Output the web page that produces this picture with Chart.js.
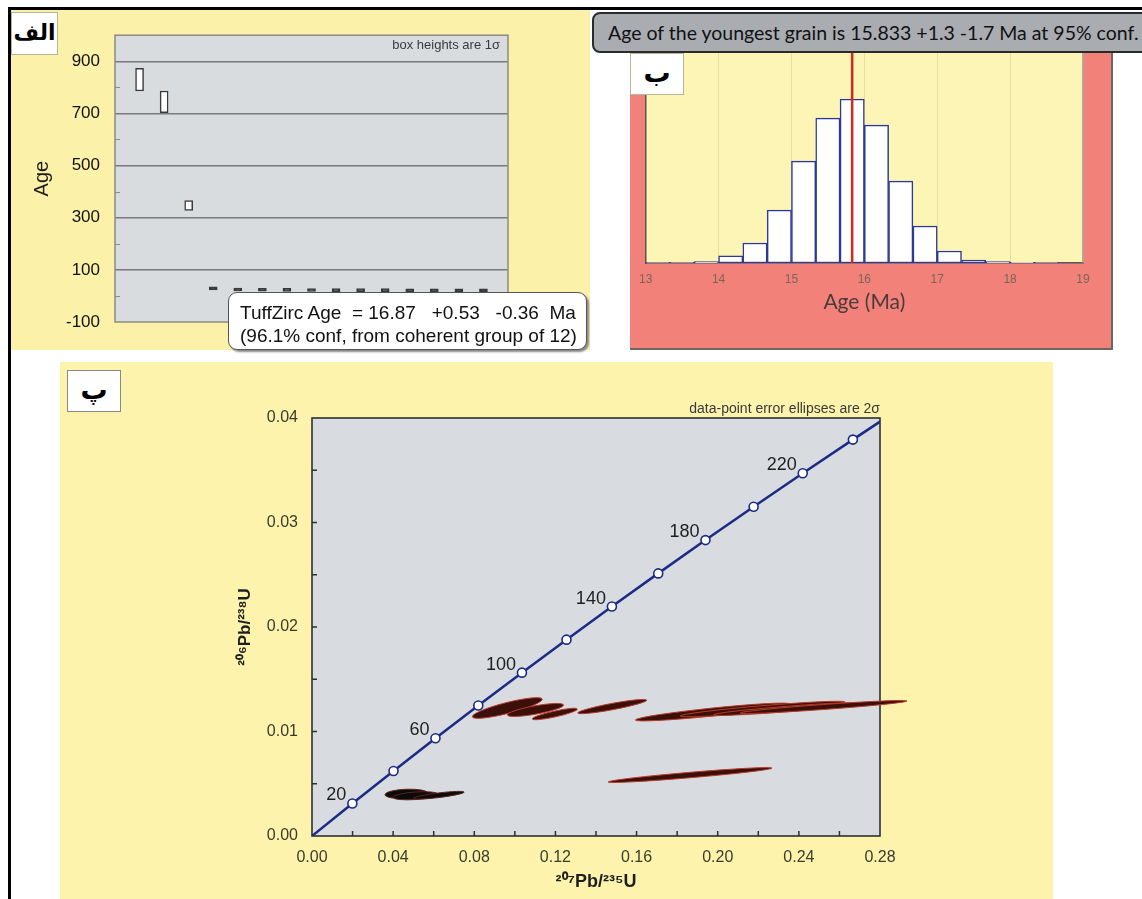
<!DOCTYPE html>
<html><head><meta charset="utf-8">
<script src="https://cdn.jsdelivr.net/npm/chart.js@4.4.1/dist/chart.umd.min.js"></script>
<style>
html,body{margin:0;padding:0;background:#fff;width:1142px;height:899px;overflow:hidden;position:relative;font-family:"Liberation Sans",Arial,sans-serif;}
.abs{position:absolute;}
#frameTop{left:8px;top:7px;width:1134px;height:3px;background:#000;}
#frameLeft{left:8px;top:7px;width:3px;height:892px;background:#000;}
#panelA{left:11px;top:10px;width:579px;height:340px;background:#fcf1a9;}
#panelB{left:630px;top:50px;width:481px;height:298px;background:#f2817a;border-right:2px solid #6d6463;border-bottom:2px solid #6d6463;}
#panelC{left:60px;top:362px;width:993px;height:537px;background:#fdf3ac;}
canvas{position:absolute;}
.lab{position:absolute;background:#fff;border:1px solid #b9b59a;box-sizing:border-box;font-family:"DejaVu Sans",sans-serif;font-weight:bold;color:#000;text-align:center;}
#titleB{left:592px;top:12px;width:570px;height:41px;box-sizing:border-box;background:#a9acb1;border:2px solid #2a2a2a;border-radius:8px;font-family:Lato,"Open Sans",sans-serif;font-size:19.5px;line-height:37px;padding-left:14px;color:#111;white-space:pre;}
#tuff{left:228px;top:292px;width:359px;height:58px;box-sizing:border-box;background:#fff;border:1px solid #555;border-radius:9px;box-shadow:2px 2px 2px #888;font-size:19px;line-height:23px;padding:8px 0 0 11px;color:#111;white-space:pre;}
.note{position:absolute;color:#3a3a3a;white-space:pre;text-align:right;}
</style>
</head>
<body>
<div id="panelA" class="abs"></div>
<div id="panelB" class="abs"></div>
<div id="panelC" class="abs"></div>
<div id="frameTop" class="abs"></div>
<div id="frameLeft" class="abs"></div>

<canvas id="cA" width="580" height="340" style="left:10px;top:10px"></canvas>
<canvas id="cB" width="483" height="338" style="left:630px;top:12px"></canvas>
<canvas id="cC" width="993" height="537" style="left:60px;top:362px"></canvas>

<div class="lab" style="left:11px;top:12px;width:47px;height:43px;line-height:40px;font-size:22px;">الف</div>
<div class="lab" style="left:630px;top:53px;width:54px;height:42px;line-height:38px;font-size:27px;">ب</div>
<div class="lab" style="left:67px;top:370px;width:54px;height:42px;line-height:38px;font-size:27px;border-color:#888;">پ</div>
<div id="titleB" class="abs">Age of the youngest grain is 15.833 +1.3 -1.7 Ma at 95% conf.</div>
<div id="tuff" class="abs">TuffZirc Age  = 16.87   +0.53   -0.36  Ma
(96.1% conf, from coherent group of 12)</div>
<div class="note" style="right:642px;top:37px;font-size:13px;">box heights are 1σ</div>
<div class="note" style="right:262px;top:400px;font-size:14px;">data-point error ellipses are 2σ</div>

<script>
// ---------- Panel الف : grain ages (box heights 1 sigma) ----------
const grainNo    = [1, 2, 3, 4, 5, 6, 7, 8, 9, 10, 11, 12, 13, 14, 15];
const grainAge   = [829.5, 744.5, 347, 24, 19.5, 18.4, 17.9, 17.5, 17.2, 17.0, 16.8, 16.6, 16.4, 16.1, 15.8];
const grainSigma = [43.5, 41.5, 19, 0.7, 0.6, 0.6, 0.5, 0.5, 0.5, 0.5, 0.5, 0.5, 0.5, 0.5, 0.5];

// ---------- Panel ب : youngest-grain age histogram ----------
const binStart  = [13.0, 13.333, 13.667, 14.0, 14.333, 14.667, 15.0, 15.333, 15.667, 16.0, 16.333, 16.667, 17.0, 17.333, 17.667, 18.0, 18.333];
const binCounts = [0.2, 0.3, 0.8, 4.3, 12.2, 32.3, 62.2, 88.4, 100, 84.1, 50, 22.6, 7.3, 1.8, 0.8, 0.4, 0.2];
const binWidth  = 1/3;
const youngestAge = 15.833;
const histYMax = 133;

// ---------- Panel پ : concordia diagram ----------
const concAge = [0, 20, 40, 60, 80, 100, 120, 140, 160, 180, 200, 220, 240, 250.7];
const concX   = [0, 0.019892, 0.040180, 0.060872, 0.081975, 0.103498, 0.125450, 0.147840, 0.170677, 0.193972, 0.217707, 0.241917, 0.266634, 0.28];
const concY   = [0, 0.0031073, 0.0062243, 0.0093509, 0.012487, 0.015633, 0.018789, 0.021955, 0.025131, 0.028316, 0.031511, 0.034717, 0.037932, 0.03965];
const concLabelAges = [20, 60, 100, 140, 180, 220];

// error ellipses: long-axis end points (x1,y1)-(x2,y2) and half thickness in 206Pb/238U
const youngX1 = [0.036, 0.040, 0.050];
const youngY1 = [0.00395, 0.0037, 0.0036];
const youngX2 = [0.057, 0.062, 0.075];
const youngY2 = [0.0041, 0.0040, 0.0042];
const youngHW = [0.00045, 0.00036, 0.00022];

const oldX1 = [0.079, 0.0963, 0.1086, 0.131, 0.1594, 0.1815, 0.198, 0.211, 0.146];
const oldY1 = [0.0114, 0.01158, 0.0112, 0.01177, 0.0111, 0.01148, 0.0116, 0.01177, 0.00517];
const oldX2 = [0.1135, 0.124, 0.1308, 0.165, 0.2357, 0.2628, 0.27, 0.2933, 0.2268];
const oldY2 = [0.0131, 0.01254, 0.01215, 0.0130, 0.01263, 0.01282, 0.0127, 0.01292, 0.0065];
const oldHW = [0.00052, 0.0004, 0.00028, 0.0003, 0.00038, 0.00032, 0.00026, 0.00024, 0.00026];

// ---------- helpers ----------
function areaFill(id, fill) {
  return { id, beforeDraw(c) { const a = c.chartArea, x = c.ctx; x.save(); x.fillStyle = fill; x.fillRect(a.left, a.top, a.right - a.left, a.bottom - a.top); x.restore(); } };
}
function areaBorder(id, stroke, lw) {
  return { id, beforeDatasetsDraw(c) { const a = c.chartArea, x = c.ctx; x.save(); x.strokeStyle = stroke; x.lineWidth = lw; x.strokeRect(a.left, a.top, a.right - a.left, a.bottom - a.top); x.restore(); } };
}
const base = { responsive:false, animation:false, devicePixelRatio:1, plugins:{legend:{display:false}, tooltip:{enabled:false}} };

// ---------- Chart الف ----------
new Chart(document.getElementById('cA'), {
  type:'bar',
  data:{ datasets:[{
    data: grainNo.map((g,i)=>({x:g, y:[grainAge[i]-grainSigma[i], grainAge[i]+grainSigma[i]]})),
    backgroundColor: ctx => (ctx.raw && (ctx.raw.y[1]-ctx.raw.y[0]) < 8) ? '#1e1e1e' : '#ffffff',
    borderColor:'#3a3a3a', borderWidth:1.5, borderSkipped:false,
    barThickness:8, minBarLength:3
  }]},
  options:Object.assign({}, base, {
    layout:{padding:{top:23, right:82, bottom:28, left:0}},
    scales:{
      x:{type:'linear', min:0, max:16, offset:false, display:false},
      y:{min:-100, max:1000,
         afterFit:s=>{ s.width = 105; },
         ticks:{stepSize:100, autoSkip:false, padding:15, color:'#111', font:{family:'"Liberation Sans"', size:17},
                callback:v=> (Math.round(v+100)%200===0 && v<1000) ? String(v) : ''},
         grid:{drawTicks:false, lineWidth:1.5,
               color:c=> (c.tick && Math.round(c.tick.value+100)%200===0 && c.tick.value>-100 && c.tick.value<1000) ? '#7a7a7a' : 'rgba(0,0,0,0)'},
         border:{display:false},
         title:{display:true, text:'Age', color:'#1e1e1e', font:{family:'"Liberation Sans"', size:20}, padding:{top:20, bottom:0}}
      }
    }
  }),
  plugins:[areaFill('bgA', '#d9dcdf'), areaBorder('bdA', '#8c8b80', 1.5), {
    id:'minorA', beforeDatasetsDraw(c){ const y=c.scales.y, a=c.chartArea, x=c.ctx; x.save(); x.strokeStyle='#8c8c8c'; x.lineWidth=1;
      y.ticks.forEach(t=>{ if (Math.round(t.value)%200===0 && t.value>-100 && t.value<1000){ const p=Math.round(y.getPixelForValue(t.value))+0.5; x.beginPath(); x.moveTo(a.left, p); x.lineTo(a.left+5, p); x.stroke(); } });
      x.restore(); }
  }]
});

// ---------- Chart ب ----------
new Chart(document.getElementById('cB'), {
  data:{ datasets:[
    { type:'bar', order:2,
      data: binStart.map((s,i)=>({x:s+binWidth/2, y:binCounts[i]})),
      backgroundColor:'#ffffff', borderColor:'#2b3a98', borderWidth:1.5, borderSkipped:false,
      barPercentage:1, categoryPercentage:1 },
    { type:'line', order:1,
      data:[{x:youngestAge, y:0}, {x:youngestAge, y:histYMax}],
      borderColor:'#d42a1c', borderWidth:2.5, pointRadius:0 }
  ]},
  options:Object.assign({}, base, {
    layout:{padding:{top:33, right:30, bottom:0, left:0}},
    scales:{
      x:{type:'linear', min:13, max:19, offset:false,
         afterFit:s=>{ s.height = 87; },
         ticks:{stepSize:1, padding:9, color:'#7a6656', font:{family:'"Liberation Sans"', size:12}},
         grid:{drawTicks:false, offset:false, color:'#ebdf9c', lineWidth:1},
         border:{color:'#555555', width:1.5},
         title:{display:true, text:'Age (Ma)', color:'#4b3b3b', font:{family:'Lato', size:21}, padding:{top:0, bottom:35}}
      },
      y:{min:0, max:histYMax,
         afterFit:s=>{ s.width = 15; },
         ticks:{display:false}, grid:{display:false, drawTicks:false},
         border:{color:'#555555', width:1.5}
      }
    }
  }),
  plugins:[areaFill('bgB', '#fdf5b6'), {
    id:'rightB', beforeDatasetsDraw(c){ const a=c.chartArea, x=c.ctx; x.save(); x.strokeStyle='#9b9488'; x.lineWidth=1.5; x.beginPath(); x.moveTo(a.right, a.top); x.lineTo(a.right, a.bottom); x.stroke(); x.restore(); }
  }]
});

// ---------- Chart پ ----------
new Chart(document.getElementById('cC'), {
  type:'scatter',
  data:{ datasets:[{
    data: concX.map((x,i)=>({x, y:concY[i]})),
    showLine:true, borderColor:'#1b2b86', borderWidth:2.5, tension:0,
    pointRadius: ctx => (ctx.dataIndex===0 || ctx.dataIndex===concX.length-1) ? 0 : 4.5,
    pointBackgroundColor:'#ffffff', pointBorderColor:'#1b2b86', pointBorderWidth:1.6
  }]},
  options:Object.assign({}, base, {
    layout:{padding:{top:56, right:173, bottom:0, left:0}},
    scales:{
      x:{type:'linear', min:0, max:0.28,
         afterFit:s=>{ s.height = 63; },
         ticks:{stepSize:0.04, padding:12, color:'#3b3b2b', font:{family:'"Liberation Sans"', size:16}, callback:v=>Number(v).toFixed(2)},
         grid:{display:false, drawTicks:false}, border:{display:false},
         title:{display:true, text:'²⁰⁷Pb/²³⁵U', color:'#1e1e1e', font:{family:'"Liberation Sans"', size:18, weight:'bold'}, padding:{top:0, bottom:6.2}}
      },
      y:{min:0, max:0.04,
         afterFit:s=>{ s.width = 252; },
         ticks:{stepSize:0.01, padding:14, color:'#3b3b2b', font:{family:'"Liberation Sans"', size:16}, callback:v=>Number(v).toFixed(2)},
         grid:{display:false, drawTicks:false}, border:{display:false},
         title:{display:true, text:'²⁰⁶Pb/²³⁸U', color:'#1e1e1e', font:{family:'"Liberation Sans"', size:17, weight:'bold'}, padding:{top:174.8, bottom:0}}
      }
    }
  }),
  plugins:[areaFill('bgC', '#d8dce0'), areaBorder('bdC', '#2f2f2f', 1.6), {
    id:'minorC', beforeDatasetsDraw(c){
      const xs=c.scales.x, ys=c.scales.y, a=c.chartArea, x=c.ctx;
      x.save(); x.strokeStyle='#2f2f2f'; x.lineWidth=1.5;
      const xt=xs.ticks.map(t=>t.value);
      for (let i=0;i<xt.length;i++){ const vals=[xt[i]]; if(i<xt.length-1) vals.push((xt[i]+xt[i+1])/2);
        vals.forEach(v=>{ if(v>xs.min+1e-9 && v<xs.max-1e-9){ const p=xs.getPixelForValue(v); x.beginPath(); x.moveTo(p,a.bottom); x.lineTo(p,a.bottom-5); x.stroke(); } }); }
      const yt=ys.ticks.map(t=>t.value);
      for (let i=0;i<yt.length;i++){ const vals=[yt[i]]; if(i<yt.length-1) vals.push((yt[i]+yt[i+1])/2);
        vals.forEach(v=>{ if(v>ys.min+1e-9 && v<ys.max-1e-9){ const p=ys.getPixelForValue(v); x.beginPath(); x.moveTo(a.left,p); x.lineTo(a.left+5,p); x.stroke(); } }); }
      x.restore();
    }
  }, {
    id:'ellipses', beforeDatasetsDraw(c){
      const xs=c.scales.x, ys=c.scales.y, ctx=c.ctx;
      const pxPerY = ys.getPixelForValue(0) - ys.getPixelForValue(1);
      const drawSet=(x1,y1,x2,y2,hw,fill,stroke)=>{
        for (let i=0;i<x1.length;i++){
          const ax=xs.getPixelForValue(x1[i]), ay=ys.getPixelForValue(y1[i]);
          const bx=xs.getPixelForValue(x2[i]), by=ys.getPixelForValue(y2[i]);
          const cx=(ax+bx)/2, cy=(ay+by)/2, rx=Math.hypot(bx-ax,by-ay)/2, ang=Math.atan2(by-ay,bx-ax), ry=hw[i]*pxPerY;
          ctx.save(); ctx.beginPath(); ctx.ellipse(cx,cy,rx,ry,ang,0,Math.PI*2);
          ctx.fillStyle=fill; ctx.fill(); ctx.lineWidth=1; ctx.strokeStyle=stroke; ctx.stroke(); ctx.restore();
        }
      };
      drawSet(oldX1,oldY1,oldX2,oldY2,oldHW,'#3c100a','#b83a2a');
      drawSet(youngX1,youngY1,youngX2,youngY2,youngHW,'#0c0a0a','#5a2420');
    }
  }, {
    id:'concLabels', afterDatasetsDraw(c){
      const meta=c.getDatasetMeta(0), ctx=c.ctx;
      ctx.save(); ctx.font='18px "Liberation Sans"'; ctx.fillStyle='#1e1e1e'; ctx.textAlign='right'; ctx.textBaseline='middle';
      concLabelAges.forEach(age=>{ const i=concAge.indexOf(age); const el=meta.data[i]; ctx.fillText(String(age), el.x-6, el.y-8); });
      ctx.restore();
    }
  }]
});
</script>
</body></html>
